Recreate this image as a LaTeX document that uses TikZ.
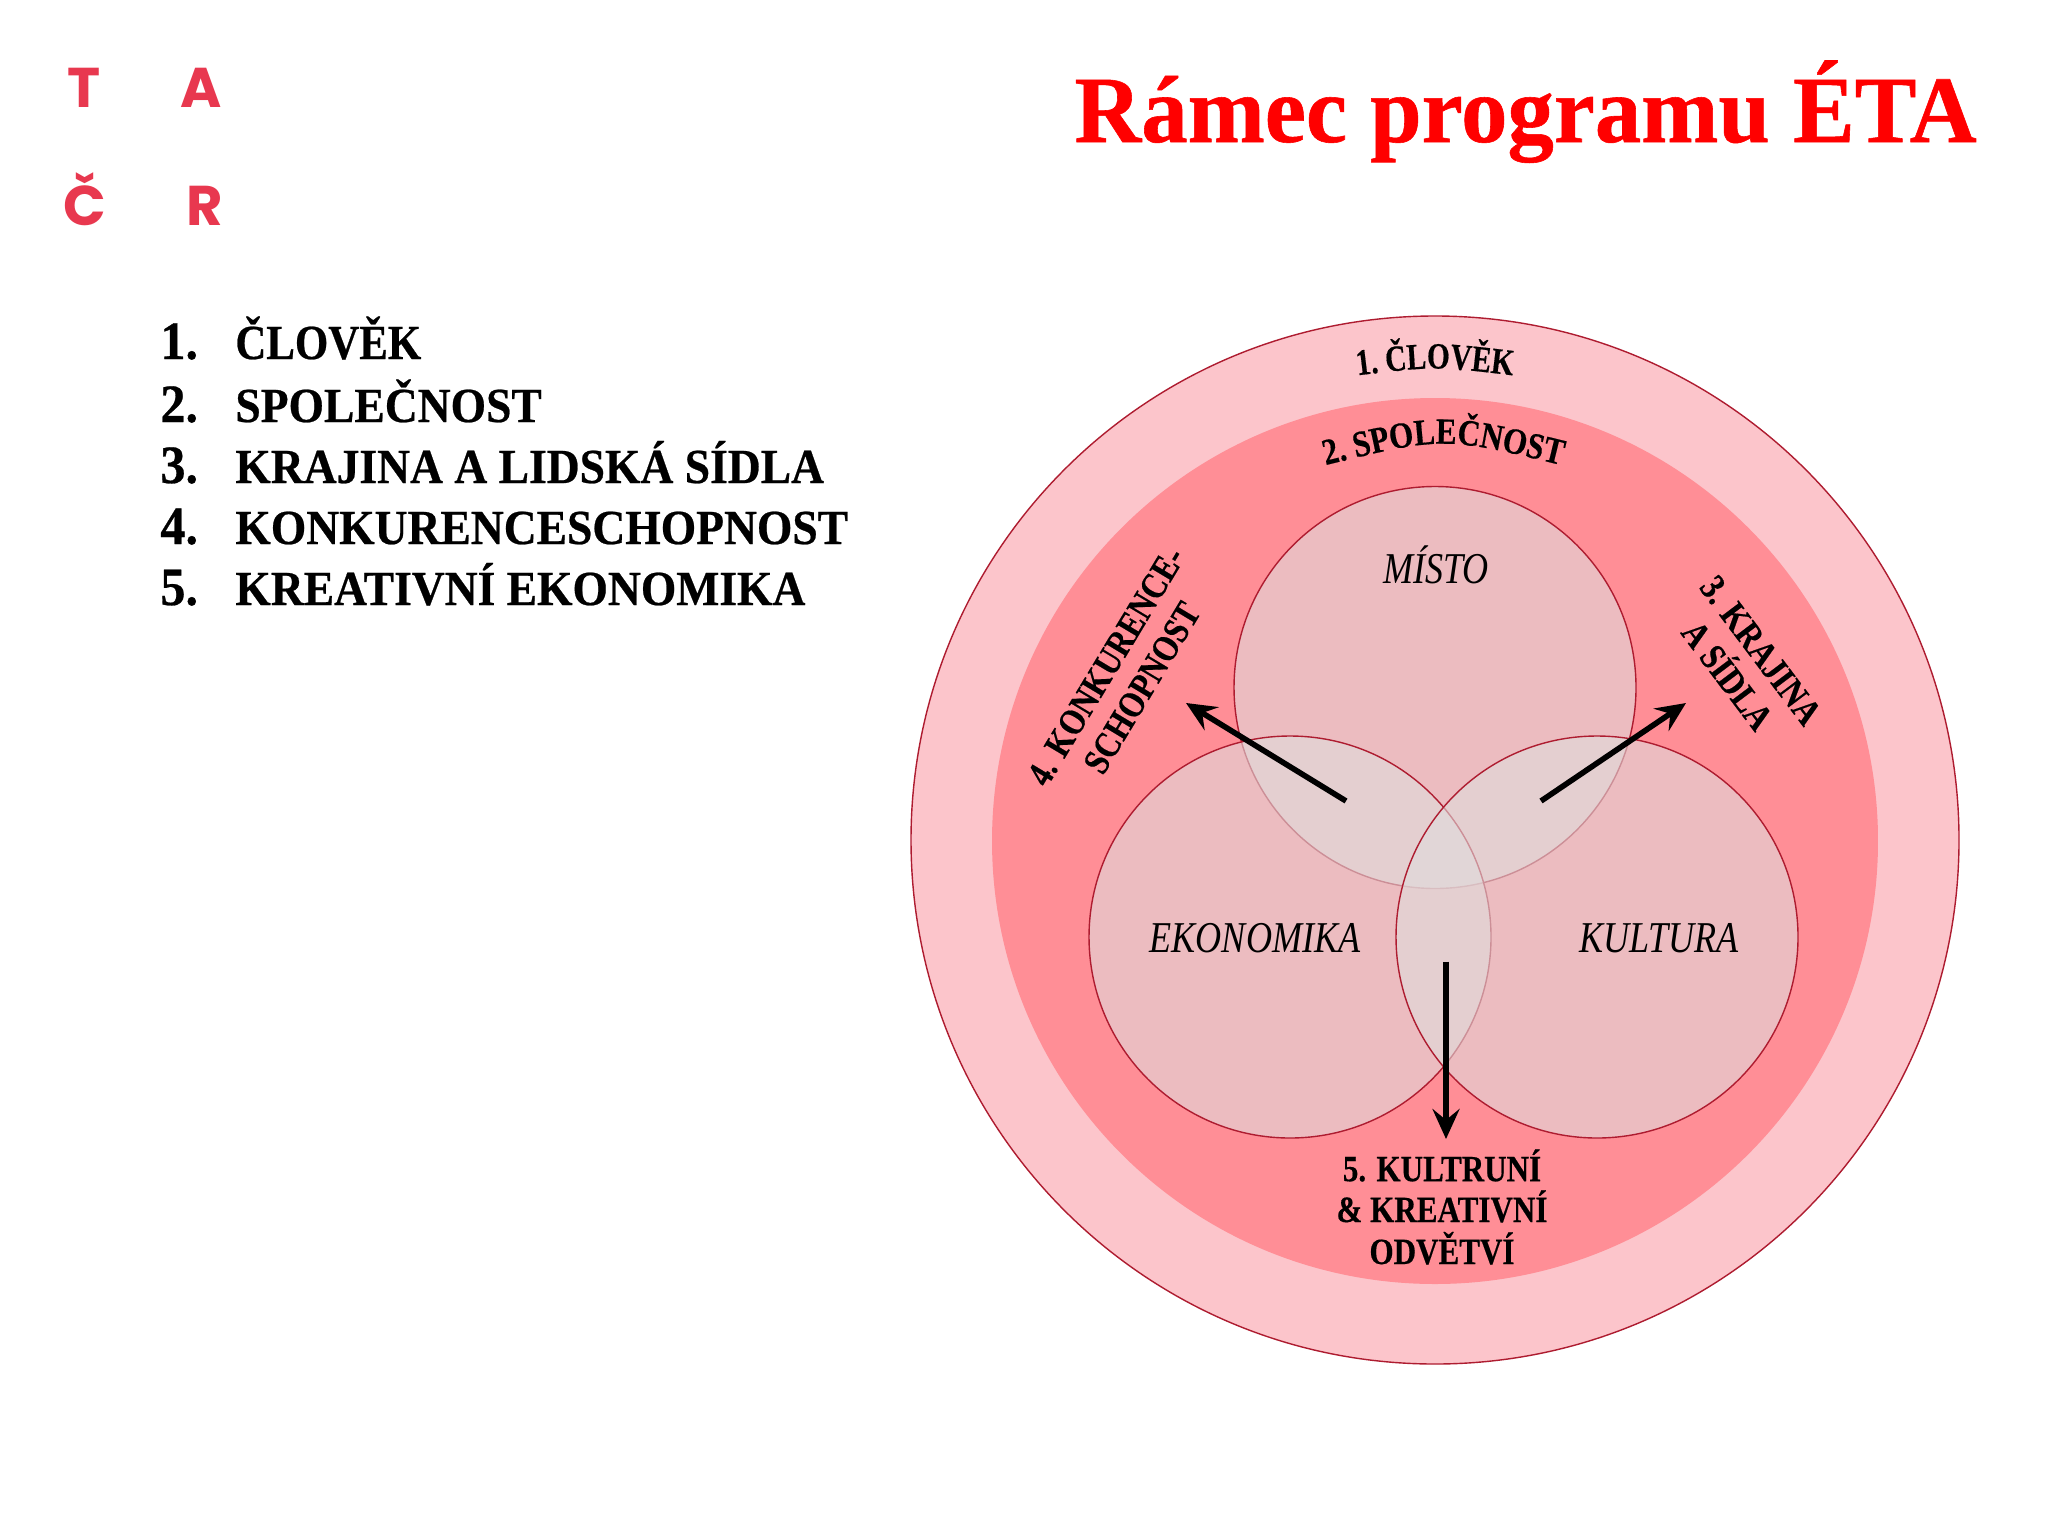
\documentclass[tikz,border=0pt]{standalone}
\usepackage{fontspec}
\usetikzlibrary{arrows.meta,decorations.text}
\newfontfamily\titlefont[FakeStretch=0.975,BoldFeatures={FakeBold=0.6}]{Liberation Serif}
\newfontfamily\listfont[FakeStretch=0.93,BoldFeatures={FakeBold=0.5}]{Liberation Serif}
\newfontfamily\listshort[FakeStretch=0.875,BoldFeatures={FakeBold=0.5}]{Liberation Serif}
\newfontfamily\camb[FakeStretch=0.84,BoldFeatures={FakeBold=0.4}]{Liberation Serif}
\newfontfamily\cambn[FakeStretch=0.79,BoldFeatures={FakeBold=0.4}]{Liberation Serif}
\newfontfamily\cambi[FakeStretch=0.82]{Liberation Serif}
\newfontfamily\logofont{Poppins}
\definecolor{logored}{HTML}{E8384F}
\definecolor{ringout}{HTML}{FCC5CB}
\definecolor{ringedge}{HTML}{AE1C30}
\definecolor{ringmid}{HTML}{FF8E96}
\definecolor{ringmidedge}{HTML}{FBA1A9}
\definecolor{venn}{HTML}{E0DCDC}
\pgfdeclareradialshading{midring}{\pgfpoint{0bp}{0bp}}{color(0bp)=(ringmid); color(39bp)=(ringmid); color(50bp)=(ringmidedge)}
\tikzset{
  x=0.5pt,y=-0.5pt,
  logo/.style={anchor=base,inner sep=0,text=logored,font=\logofont\bfseries\fontsize{28}{28}\selectfont},
  listitem/.style={anchor=base west,inner sep=0,text=black,font=\listfont\bfseries\fontsize{24.5}{24.5}\selectfont},
  listnum/.style={anchor=base west,inner sep=0,text=black,font=\listfont\bfseries\fontsize{27}{27}\selectfont},
  ringlabel/.style={inner sep=0,align=center,text=black,font=\camb\bfseries\fontsize{18.5}{21}\selectfont},
  vennlabel/.style={anchor=base,inner sep=0,text=black,font=\cambi\itshape\fontsize{22}{22}\selectfont},
  vennc/.style={circle,minimum size=201pt,inner sep=0,draw=ringedge,line width=0.7pt,fill=venn,fill opacity=0.6},
  bigarrow/.style={line width=2.8pt,-{Stealth[length=15pt,width=13.5pt,inset=5.5pt]},black}
}
\begin{document}
\begin{tikzpicture}
\useasboundingbox (0,0) rectangle (2048,1536);
\fill[white] (0,0) rectangle (2048,1536);
% logo
\node[logo] (lt) at (84,107) {T};
\node[logo] (la) at (201,107) {A};
\node[logo] (lc) at (85,225) {Č};
\node[logo] (lr) at (205,225) {R};
% title
\node[anchor=base east,inner sep=0,text=red,font=\titlefont\bfseries\fontsize{47.5}{47.5}\selectfont] (title) at (1977,142) {Rámec programu ÉTA};
% list
\node[listnum] (n1) at (160,359) {1.};
\node[listitem,font=\listshort\bfseries\fontsize{24.5}{24.5}\selectfont] (t1) at (235,359) {ČLOVĚK};
\node[listnum] (n2) at (160,422) {2.};
\node[listitem] (t2) at (235,422) {SPOLEČNOST};
\node[listnum] (n3) at (160,483) {3.};
\node[listitem] (t3) at (235,483) {KRAJINA A LIDSKÁ SÍDLA};
\node[listnum] (n4) at (160,544) {4.};
\node[listitem] (t4) at (235,544) {KONKURENCESCHOPNOST};
\node[listnum] (n5) at (160,605) {5.};
\node[listitem] (t5) at (235,605) {KREATIVNÍ EKONOMIKA};
% rings
\node[circle,minimum size=524pt,inner sep=0,draw=ringedge,line width=0.7pt,fill=ringout] (outer) at (1435,840) {};
\node[circle,minimum size=443pt,inner sep=0,shading=midring] (middle) at (1435,841) {};
% venn
\node[vennc] (misto) at (1435,687.5) {};
\node[vennc] (ekon) at (1290,937) {};
\node[vennc] (kult) at (1597,937) {};
% venn labels
\node[vennlabel] (lm) at (1436,583) {MÍSTO};
\node[vennlabel] (le) at (1255,952) {EKONOMIKA};
\node[vennlabel] (lk) at (1659,952) {KULTURA};
% curved labels
\path[decorate,decoration={text along path,text align=center,text={|\cambn\bfseries\fontsize{18.5}{21}\selectfont|1. ČLOVĚK}}]
  (1352,376) .. controls (1435,366) .. (1518,376);
\path[decorate,decoration={text along path,text align=center,text={|\camb\bfseries\fontsize{18.5}{21}\selectfont|2. SPOLEČNOST}}]
  (1318,467) .. controls (1443,436) .. (1569,467);
% rotated labels
\node[ringlabel,rotate=-53] (l3) at (1744,663) {3. KRAJINA\\A SÍDLA};
\node[ringlabel,rotate=59] (l4) at (1124,677) {4. KONKURENCE-\\SCHOPNOST};
\node[ringlabel] (l5) at (1442,1207) {5. KULTRUNÍ\\[-0.6pt]\& KREATIVNÍ\\ODVĚTVÍ};
% arrows
\coordinate (as1) at (1346,801); \coordinate (ae1) at (1186,703);
\coordinate (as2) at (1541,801); \coordinate (ae2) at (1686,703);
\coordinate (as3) at (1446,961.5); \coordinate (ae3) at (1446,1139);
\draw[bigarrow] (as1) -- (ae1);
\draw[bigarrow] (as2) -- (ae2);
\draw[bigarrow] (as3) -- (ae3);
\end{tikzpicture}
\end{document}
